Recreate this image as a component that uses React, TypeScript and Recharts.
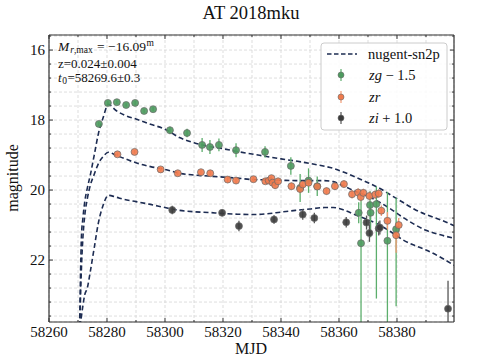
import React from 'react';
import { ComposedChart, Line, Scatter, ErrorBar, XAxis, YAxis, CartesianGrid, Customized } from 'recharts';

// ---------- data ----------
const gMjd = [58277.2, 58280.3, 58283.4, 58286.6, 58289.7, 58292.8, 58295.9, 58301.7, 58307.6, 58312.8, 58315.5, 58318.6, 58324.5, 58334.5, 58343.4, 58346.6, 58349.5, 58352.5, 58366.8, 58367.6, 58370.7, 58370.9, 58372.9, 58376.7, 58379.7];
const gMag = [18.11, 17.51, 17.49, 17.57, 17.51, 17.74, 17.69, 18.29, 18.37, 18.71, 18.77, 18.71, 18.86, 18.91, 19.31, 19.94, 19.73, 19.89, 20.65, 21.52, 20.43, 20.65, 20.4, 21.45, 21.12];
const gErrUp = [0.06, 0.05, 0.05, 0.05, 0.06, 0.06, 0.06, 0.1, 0.12, 0.2, 0.2, 0.18, 0.2, 0.16, 0.25, 0.4, 0.35, 0.28, 0.3, 1.3, 0.4, 0.3, 0.5, 1.4, 0.9];
const gErrDn = [0.06, 0.05, 0.05, 0.05, 0.06, 0.06, 0.06, 0.1, 0.12, 0.2, 0.2, 0.18, 0.2, 0.16, 0.25, 0.4, 0.35, 0.28, 0.3, 3.0, 0.4, 0.7, 2.7, 3.0, 2.2];

const rMjd = [58283.6, 58289.5, 58298.5, 58304.4, 58312.4, 58315.6, 58321.6, 58324.5, 58330.5, 58334.6, 58335.8, 58336.7, 58337.1, 58338.0, 58339.0, 58343.6, 58346.6, 58347.5, 58349.5, 58352.5, 58355.7, 58358.6, 58361.7, 58364.5, 58366.6, 58367.5, 58368.4, 58370.5, 58372.5, 58373.7, 58374.6, 58376.7, 58379.7, 58380.6];
const rMag = [18.98, 18.91, 19.41, 19.52, 19.49, 19.52, 19.7, 19.73, 19.69, 19.75, 19.73, 19.66, 19.79, 19.86, 19.75, 19.89, 19.97, 19.84, 19.79, 19.9, 20.03, 19.89, 19.83, 20.12, 20.07, 20.2, 20.08, 20.17, 20.13, 20.1, 20.59, 20.88, 21.29, 21.0];
const rErrUp = [0.05, 0.05, 0.06, 0.06, 0.07, 0.07, 0.1, 0.1, 0.08, 0.08, 0.08, 0.08, 0.08, 0.1, 0.08, 0.1, 0.12, 0.1, 0.1, 0.1, 0.1, 0.1, 0.1, 0.12, 0.12, 0.12, 0.12, 0.12, 0.12, 0.12, 0.15, 0.25, 0.3, 0.2];
const rErrDn = [0.05, 0.05, 0.06, 0.06, 0.07, 0.07, 0.1, 0.1, 0.08, 0.08, 0.08, 0.08, 0.08, 0.1, 0.08, 0.1, 0.12, 0.1, 0.1, 0.1, 0.1, 0.1, 0.1, 0.12, 0.12, 0.12, 0.12, 0.12, 0.12, 0.12, 0.15, 0.25, 0.5, 0.2];

const iMjd = [58302.5, 58319.7, 58325.5, 58337.6, 58347.5, 58351.5, 58362.5, 58369.5, 58370.5, 58373.7, 58374.1, 58397.6];
const iMag = [20.57, 20.65, 21.03, 20.84, 20.7, 20.8, 20.92, 20.93, 21.23, 21.1, 21.07, 23.39];
const iErr = [0.12, 0.1, 0.15, 0.12, 0.15, 0.15, 0.15, 0.2, 0.25, 0.2, 0.2, 0.8];

const modelMjd = [58270.3, 58270.8, 58271.2, 58271.7, 58272.3, 58273.2, 58274.3, 58275.6, 58277.0, 58278.6, 58280.5, 58283, 58286, 58290, 58295, 58300, 58305, 58310, 58315, 58320, 58325, 58330, 58335, 58340, 58345, 58350, 58355, 58358, 58362, 58366, 58370, 58374, 58378, 58382, 58386, 58390, 58395, 58399.7];
const modelG = [25.5, 22.7, 21.3, 20.8, 20.35, 19.95, 19.55, 19.0, 18.4, 17.95, 17.55, 17.72, 17.86, 17.97, 18.12, 18.26, 18.5, 18.65, 18.75, 18.82, 18.9, 18.97, 19.04, 19.11, 19.17, 19.24, 19.32, 19.38, 19.5, 19.64, 19.79, 19.95, 20.15, 20.35, 20.55, 20.7, 20.85, 21.02];
const modelR = [25.5, 23.3, 22.2, 21.35, 20.75, 20.25, 19.85, 19.55, 19.25, 19.05, 18.92, 19.0, 19.1, 19.22, 19.33, 19.41, 19.52, 19.57, 19.6, 19.63, 19.66, 19.7, 19.71, 19.72, 19.73, 19.73, 19.73, 19.76, 19.9, 20.05, 20.18, 20.35, 20.55, 20.78, 20.98, 21.15, 21.28, 21.38];
const modelI = [25.5, 23.9, 23.6, 23.3, 23.0, 22.8, 22.3, 21.65, 20.95, 20.45, 20.15, 20.2, 20.27, 20.33, 20.41, 20.5, 20.58, 20.62, 20.64, 20.67, 20.69, 20.7, 20.68, 20.63, 20.58, 20.54, 20.5, 20.5, 20.58, 20.72, 20.85, 21.0, 21.2, 21.42, 21.58, 21.71, 21.92, 22.15];

const xTicks = [58260, 58270, 58280, 58290, 58300, 58310, 58320, 58330, 58340, 58350, 58360, 58370, 58380, 58390];
const xMajorTicks = [58260, 58280, 58300, 58320, 58340, 58360, 58380];
const yTicks = [15.6, 16.0, 16.4, 16.8, 17.2, 17.6, 18.0, 18.4, 18.8, 19.2, 19.6, 20.0, 20.4, 20.8, 21.2, 21.6, 22.0, 22.4, 22.8, 23.2, 23.6];
const yMajorTicks = [16, 18, 20, 22];

const X_DOMAIN = [58260, 58399.66];
const Y_DOMAIN = [15.57, 23.77];

// ---------- build ----------
const gData = gMjd.map((m, i) => ({ mjd: m, mag: gMag[i], up: gErrUp[i], dn: gErrDn[i] }));
const rData = rMjd.map((m, i) => ({ mjd: m, mag: rMag[i], up: rErrUp[i], dn: rErrDn[i] }));
const iData = iMjd.map((m, i) => ({ mjd: m, mag: iMag[i], up: iErr[i], dn: iErr[i] }));
const mG = modelMjd.map((m, i) => ({ mjd: m, mag: modelG[i] }));
const mR = modelMjd.map((m, i) => ({ mjd: m, mag: modelR[i] }));
const mI = modelMjd.map((m, i) => ({ mjd: m, mag: modelI[i] }));

// error bars are drawn only inside the plotting window (like matplotlib's clipping)
const clippedErr = (d: any) => [
  Math.min(d.up, d.mag - Y_DOMAIN[0]),
  Math.min(d.dn, Y_DOMAIN[1] - d.mag),
];

const FONT = "'Liberation Serif', 'Times New Roman', serif";
const AX = '#333';
const MODEL = '#1d2c52';
const G_FILL = '#4c9a5e';
const G_BAR = '#5cae6c';
const R_FILL = '#ef7a4c';
const R_BAR = '#f39b74';
const I_FILL = '#3c3c3c';
const I_BAR = '#555';

const isMajorX = (v: number) => xMajorTicks.some((t) => Math.abs(t - v) < 1e-6);
const isMajorY = (v: number) => yMajorTicks.some((t) => Math.abs(t - v) < 1e-6);

const BottomTick = (p: any) => {
  const major = isMajorX(p.payload.value);
  return (
    <g>
      <line x1={p.x} x2={p.x} y1={p.y} y2={p.y - (major ? 4 : 2)} stroke={AX} strokeWidth={1} />
      {major && (
        <text x={p.x} y={p.y + 14.5} textAnchor="middle" fontFamily={FONT} fontSize={15} fill="#111">
          {p.payload.value}
        </text>
      )}
    </g>
  );
};
const TopTick = (p: any) => {
  const major = isMajorX(p.payload.value);
  return <line x1={p.x} x2={p.x} y1={p.y} y2={p.y + (major ? 4 : 2)} stroke={AX} strokeWidth={1} />;
};
const LeftTick = (p: any) => {
  const major = isMajorY(p.payload.value);
  return (
    <g>
      <line x1={p.x} x2={p.x + (major ? 4 : 2)} y1={p.y} y2={p.y} stroke={AX} strokeWidth={1} />
      {major && (
        <text x={p.x - 4} y={p.y + 5} textAnchor="end" fontFamily={FONT} fontSize={15} fill="#111">
          {Math.round(p.payload.value)}
        </text>
      )}
    </g>
  );
};
const RightTick = (p: any) => {
  const major = isMajorY(p.payload.value);
  return <line x1={p.x} x2={p.x - (major ? 4 : 2)} y1={p.y} y2={p.y} stroke={AX} strokeWidth={1} />;
};

const marker = (fill: string) => (props: any) => (
  <circle cx={props.cx} cy={props.cy} r={3.5} fill={fill} fillOpacity={0.9} stroke="#6a6a6a" strokeWidth={0.7} />
);

const LegendMarker = ({ y, fill, bar }: { y: number; fill: string; bar: string }) => (
  <g>
    <line x1={341} x2={341} y1={y - 6} y2={y + 6} stroke={bar} strokeWidth={1.2} />
    <circle cx={341} cy={y} r={3} fill={fill} stroke="#6a6a6a" strokeWidth={0.6} />
  </g>
);

const Overlay = () => (
  <g fill="#111">
    <text x={251} y={19} textAnchor="middle" fontFamily={FONT} fontSize={18.5}>AT 2018mku</text>
    <text x={251} y={354} textAnchor="middle" fontFamily={FONT} fontSize={16}>MJD</text>
    <text transform="translate(18,178) rotate(-90)" textAnchor="middle" fontFamily={FONT} fontSize={16}>magnitude</text>

    <text x={58} y={50.5} fontFamily={FONT} fontSize={13.5}>
      <tspan fontStyle="italic">M</tspan>
      <tspan dx={1} dy={2.5} fontSize={9.5} fontStyle="italic">r</tspan>
      <tspan fontSize={9.5}>,max</tspan>
      <tspan dx={1} dy={-2.5}> = −16.09</tspan>
      <tspan dx={0.5} dy={-5} fontSize={9.5}>m</tspan>
    </text>
    <text x={58} y={67.5} fontFamily={FONT} fontSize={13}>z=0.024±0.004</text>
    <text x={58} y={81.5} fontFamily={FONT} fontSize={13}>
      <tspan fontStyle="italic">t</tspan>
      <tspan dx={0.5} dy={2.5} fontSize={9.5}>0</tspan>
      <tspan dx={0.5} dy={-2.5}>=58269.6±0.3</tspan>
    </text>

    <rect x={321} y={43} width={126} height={87} rx={3} fill="#fff" fillOpacity={0.85} stroke="#cccccc" strokeWidth={1} />
    <line x1={327} x2={357} y1={54} y2={54} stroke={MODEL} strokeWidth={1.6} strokeDasharray="4.5 2.5" />
    <text x={368} y={58.5} fontFamily={FONT} fontSize={14.5}>nugent-sn2p</text>
    <LegendMarker y={75} fill={G_FILL} bar={G_BAR} />
    <text x={369} y={80} fontFamily={FONT} fontSize={14.5}>
      <tspan fontStyle="italic">zg</tspan> − 1.5
    </text>
    <LegendMarker y={97} fill={R_FILL} bar={R_BAR} />
    <text x={369} y={101.5} fontFamily={FONT} fontSize={14.5} fontStyle="italic">zr</text>
    <LegendMarker y={118} fill={I_FILL} bar={I_BAR} />
    <text x={369} y={123} fontFamily={FONT} fontSize={14.5}>
      <tspan fontStyle="italic">zi</tspan> + 1.0
    </text>
  </g>
);

export default function App() {
  return (
    <div style={{ position: 'absolute', left: 0, top: 0, width: 478, height: 359, background: '#fff' }}>
      <ComposedChart width={478} height={359} margin={{ top: 34, right: 23, bottom: 7, left: 9 }}>
        <CartesianGrid stroke="#d4d4d4" strokeDasharray="3 2" strokeWidth={0.8} />
        <XAxis
          dataKey="mjd"
          type="number"
          domain={X_DOMAIN}
          allowDataOverflow
          ticks={xTicks}
          interval={0}
          height={30}
          tickSize={0}
          tickMargin={0}
          tickLine={false}
          tick={BottomTick}
          axisLine={{ stroke: AX, strokeWidth: 1.2 }}
        />
        <XAxis
          xAxisId="top"
          orientation="top"
          dataKey="mjd"
          type="number"
          domain={X_DOMAIN}
          allowDataOverflow
          ticks={xTicks}
          interval={0}
          height={1}
          tickSize={0}
          tickMargin={0}
          tickLine={false}
          tick={TopTick}
          axisLine={{ stroke: AX, strokeWidth: 1.2 }}
        />
        <YAxis
          dataKey="mag"
          type="number"
          domain={Y_DOMAIN}
          reversed
          allowDataOverflow
          ticks={yTicks}
          interval={0}
          width={40}
          tickSize={0}
          tickMargin={0}
          tickLine={false}
          tick={LeftTick}
          axisLine={{ stroke: AX, strokeWidth: 1.2 }}
        />
        <YAxis
          yAxisId="right"
          orientation="right"
          dataKey="mag"
          type="number"
          domain={Y_DOMAIN}
          reversed
          allowDataOverflow
          ticks={yTicks}
          interval={0}
          width={1}
          tickSize={0}
          tickMargin={0}
          tickLine={false}
          tick={RightTick}
          axisLine={{ stroke: AX, strokeWidth: 1.2 }}
        />
        <Line data={mG} dataKey="mag" type="monotone" stroke={MODEL} strokeWidth={1.6} strokeDasharray="5 3" dot={false} isAnimationActive={false} />
        <Line data={mR} dataKey="mag" type="monotone" stroke={MODEL} strokeWidth={1.6} strokeDasharray="5 3" dot={false} isAnimationActive={false} />
        <Line data={mI} dataKey="mag" type="monotone" stroke={MODEL} strokeWidth={1.6} strokeDasharray="5 3" dot={false} isAnimationActive={false} />
        <Scatter data={gData} dataKey="mag" shape={marker(G_FILL)} isAnimationActive={false}>
          <ErrorBar dataKey={clippedErr} direction="y" width={0} stroke={G_BAR} strokeWidth={1.3} />
        </Scatter>
        <Scatter data={rData} dataKey="mag" shape={marker(R_FILL)} isAnimationActive={false}>
          <ErrorBar dataKey={clippedErr} direction="y" width={0} stroke={R_BAR} strokeWidth={1.3} />
        </Scatter>
        <Scatter data={iData} dataKey="mag" shape={marker(I_FILL)} isAnimationActive={false}>
          <ErrorBar dataKey={clippedErr} direction="y" width={0} stroke={I_BAR} strokeWidth={1.3} />
        </Scatter>
        <Customized component={Overlay} />
      </ComposedChart>
    </div>
  );
}
